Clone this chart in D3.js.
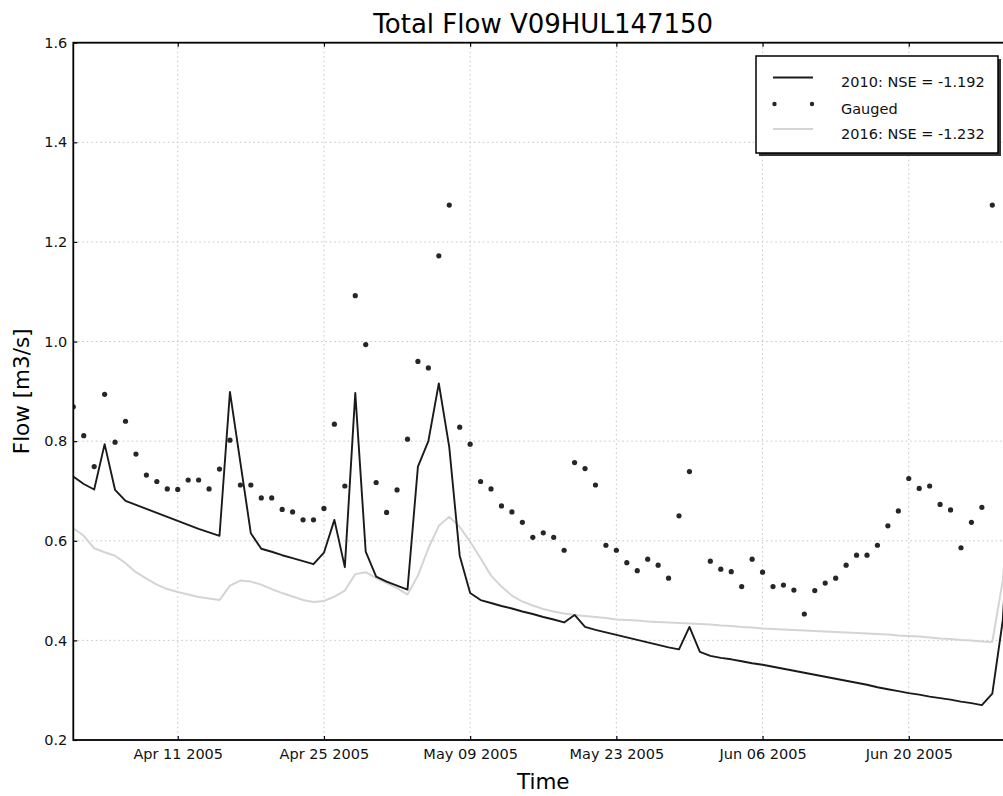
<!DOCTYPE html>
<html>
<head>
<meta charset="utf-8">
<script src="https://cdn.jsdelivr.net/npm/d3@7"></script>
<style>
  body { margin: 0; background: #fff; }
  svg { display: block; }
</style>
</head>
<body>
<div id="chart"></div>
<script>
const START_DATE = '2005-04-01'
const END_DATE = '2005-06-30'

// daily values, index 0 = Apr 01 2005
const flow2010 = [
  0.729, 0.714, 0.703, 0.794, 0.702, 0.680, 0.672, 0.664, 0.656, 0.648,
  0.640, 0.632, 0.624, 0.617, 0.610, 0.899, 0.757, 0.615, 0.584, 0.578,
  0.571, 0.565, 0.559, 0.553, 0.576, 0.642, 0.547, 0.897, 0.578, 0.528,
  0.518, 0.510, 0.502, 0.749, 0.800, 0.916, 0.788, 0.570, 0.495, 0.481,
  0.475, 0.469, 0.464, 0.458, 0.453, 0.447, 0.442, 0.436, 0.451, 0.427,
  0.421, 0.416, 0.411, 0.406, 0.401, 0.396, 0.391, 0.386, 0.382, 0.427,
  0.377, 0.369, 0.365, 0.362, 0.358, 0.354, 0.351, 0.347, 0.343, 0.339,
  0.335, 0.331, 0.327, 0.323, 0.319, 0.315, 0.311, 0.306, 0.302, 0.298,
  0.294, 0.291, 0.287, 0.284, 0.281, 0.277, 0.274, 0.270, 0.293, 0.440,
  0.800
]

const gauged = [
  0.869, 0.811, 0.749, 0.894, 0.798, 0.840, 0.774, 0.732, 0.719, 0.704,
  0.703, 0.722, 0.722, 0.704, 0.744, 0.802, 0.712, 0.712, 0.686, 0.686,
  0.663, 0.658, 0.642, 0.642, 0.665, 0.834, 0.710, 1.092, 0.994, 0.717,
  0.657, 0.702, 0.804, 0.960, 0.947, 1.172, 1.274, 0.828, 0.794, 0.719,
  0.704, 0.670, 0.658, 0.637, 0.607, 0.616, 0.607, 0.581, 0.757, 0.745,
  0.712, 0.591, 0.581, 0.556, 0.540, 0.563, 0.551, 0.525, 0.650, 0.739,
  null, 0.559, 0.543, 0.538, 0.508, 0.563, 0.537, 0.508, 0.511, 0.501,
  0.453, 0.500, 0.515, 0.525, 0.551, 0.571, 0.571, 0.591, 0.630, 0.660,
  0.725, 0.705, 0.710, 0.673, 0.662, 0.586, 0.637, 0.667, 1.274, null,
  null
]

const flow2016 = [
  0.625, 0.610, 0.585, 0.577, 0.570, 0.555, 0.537, 0.524, 0.512, 0.503,
  0.497, 0.492, 0.487, 0.484, 0.481, 0.510, 0.520, 0.518, 0.512, 0.503,
  0.495, 0.488, 0.481, 0.477, 0.479, 0.488, 0.500, 0.533, 0.537, 0.525,
  0.515, 0.505, 0.492, 0.530, 0.585, 0.630, 0.648, 0.628, 0.598, 0.565,
  0.530, 0.508, 0.490, 0.478, 0.470, 0.463, 0.458, 0.454, 0.451, 0.449,
  0.447, 0.445, 0.442, 0.441, 0.440, 0.438, 0.437, 0.436, 0.435, 0.434,
  0.433, 0.432, 0.430, 0.429, 0.427, 0.426, 0.424, 0.423, 0.422, 0.421,
  0.420, 0.419, 0.418, 0.417, 0.416, 0.415, 0.414, 0.413, 0.412, 0.410,
  0.409, 0.408, 0.406, 0.404, 0.403, 0.401, 0.400, 0.398, 0.397, 0.520,
  0.780
]

const xTickDates = ['2005-04-11', '2005-04-25', '2005-05-09', '2005-05-23', '2005-06-06', '2005-06-20']
const yTicks = [0.2, 0.4, 0.6, 0.8, 1.0, 1.2, 1.4, 1.6]
const legendLabels = ['2010: NSE = -1.192', 'Gauged', '2016: NSE = -1.232']

const W = 1003
const H = 796
const mLeft = 73.3
const mRight = 1013.2
const mTop = 42.7
const mBottom = 740

const FONT = 'DejaVu Sans, sans-serif'
const parseDay = d3.utcParse('%Y-%m-%d')
const start = parseDay(START_DATE)
const dayOf = (i) => d3.utcDay.offset(start, i)

const x = d3.scaleUtc().domain([start, parseDay(END_DATE)]).range([mLeft, mRight])
const y = d3.scaleLinear().domain([0.2, 1.6]).range([mBottom, mTop])

const svg = d3.select('#chart').append('svg').attr('width', W).attr('height', H)
svg.append('rect').attr('width', W).attr('height', H).attr('fill', '#fff')

svg.append('clipPath').attr('id', 'plot').append('rect')
  .attr('x', mLeft).attr('y', mTop).attr('width', mRight - mLeft).attr('height', mBottom - mTop)

// grid
const grid = svg.append('g')
grid.selectAll('.gx').data(xTickDates).join('line')
  .attr('x1', (d) => x(parseDay(d))).attr('x2', (d) => x(parseDay(d)))
  .attr('y1', mTop).attr('y2', mBottom)
  .attr('stroke', '#c4c4c4').attr('stroke-width', 1).attr('stroke-dasharray', '1.5,3')
grid.selectAll('.gy').data(yTicks.slice(1, -1)).join('line')
  .attr('x1', mLeft).attr('x2', mRight)
  .attr('y1', (d) => y(d)).attr('y2', (d) => y(d))
  .attr('stroke', '#c4c4c4').attr('stroke-width', 1).attr('stroke-dasharray', '1.5,3')

const plot = svg.append('g').attr('clip-path', 'url(#plot)')

const line = d3.line()
  .defined((d) => d != null)
  .x((d, i) => x(dayOf(i)))
  .y((d) => y(d))

plot.append('path').datum(flow2016)
  .attr('d', line).attr('fill', 'none')
  .attr('stroke', '#d4d4d4').attr('stroke-width', 2).attr('stroke-linejoin', 'round')

plot.append('path').datum(flow2010)
  .attr('d', line).attr('fill', 'none')
  .attr('stroke', '#1a1a1a').attr('stroke-width', 1.9).attr('stroke-linejoin', 'round')

plot.selectAll('.dot')
  .data(gauged.map((v, i) => ({ v, i })).filter((d) => d.v != null))
  .join('circle')
  .attr('cx', (d) => x(dayOf(d.i)))
  .attr('cy', (d) => y(d.v))
  .attr('r', 2.6)
  .attr('fill', '#262626')

// axes, ticks inward on all four sides
const xTicks = xTickDates.map(parseDay)
const styleAxis = (g) => {
  g.select('.domain').remove()
  g.selectAll('.tick line').attr('stroke', '#000').attr('stroke-width', 1.2)
  g.selectAll('.tick text').attr('font-family', FONT).attr('font-size', 14.5).attr('fill', '#111')
}

svg.append('g').attr('transform', `translate(0,${mBottom})`)
  .call(d3.axisBottom(x).tickValues(xTicks).tickFormat(d3.utcFormat('%b %d %Y')).tickSize(-4).tickPadding(9))
  .call(styleAxis)
svg.append('g').attr('transform', `translate(0,${mTop})`)
  .call(d3.axisTop(x).tickValues(xTicks).tickFormat('').tickSize(-4))
  .call(styleAxis)
svg.append('g').attr('transform', `translate(${mLeft},0)`)
  .call(d3.axisLeft(y).tickValues(yTicks).tickFormat(d3.format('.1f')).tickSize(-4).tickPadding(6))
  .call(styleAxis)
svg.append('g').attr('transform', `translate(${mRight},0)`)
  .call(d3.axisRight(y).tickValues(yTicks).tickFormat('').tickSize(-4))
  .call(styleAxis)

svg.append('rect')
  .attr('x', mLeft).attr('y', mTop).attr('width', mRight - mLeft).attr('height', mBottom - mTop)
  .attr('fill', 'none').attr('stroke', '#000').attr('stroke-width', 1.8)

// titles
svg.append('text')
  .attr('x', (mLeft + mRight) / 2).attr('y', 33)
  .attr('text-anchor', 'middle').attr('font-family', FONT).attr('font-size', 26)
  .attr('fill', '#000').text('Total Flow V09HUL147150')

svg.append('text')
  .attr('x', (mLeft + mRight) / 2).attr('y', 789)
  .attr('text-anchor', 'middle').attr('font-family', FONT).attr('font-size', 21.5)
  .attr('fill', '#000').text('Time')

svg.append('text')
  .attr('transform', `translate(29,${(mTop + mBottom) / 2}) rotate(-90)`)
  .attr('text-anchor', 'middle').attr('font-family', FONT).attr('font-size', 21.5)
  .attr('fill', '#000').text('Flow [m3/s]')

// legend
const legend = svg.append('g').attr('transform', 'translate(756,56)')
legend.append('rect').attr('x', 3).attr('y', 3).attr('width', 242).attr('height', 97).attr('fill', '#333')
legend.append('rect').attr('width', 242).attr('height', 97)
  .attr('fill', '#fff').attr('stroke', '#000').attr('stroke-width', 1.5)

const rowY = [21.5, 48, 73]
legend.append('line').attr('x1', 17).attr('x2', 57).attr('y1', rowY[0]).attr('y2', rowY[0])
  .attr('stroke', '#1a1a1a').attr('stroke-width', 1.9)
legend.selectAll('.lg').data([18.5, 56]).join('circle')
  .attr('cx', (d) => d).attr('cy', rowY[1]).attr('r', 2.2).attr('fill', '#262626')
legend.append('line').attr('x1', 17).attr('x2', 57).attr('y1', rowY[2]).attr('y2', rowY[2])
  .attr('stroke', '#d4d4d4').attr('stroke-width', 2)

legend.selectAll('.lt').data(legendLabels).join('text')
  .attr('x', 85).attr('y', (d, i) => rowY[i] + 9.5)
  .attr('font-family', FONT).attr('font-size', 14.5).attr('fill', '#111')
  .text((d) => d)
</script>
</body>
</html>
